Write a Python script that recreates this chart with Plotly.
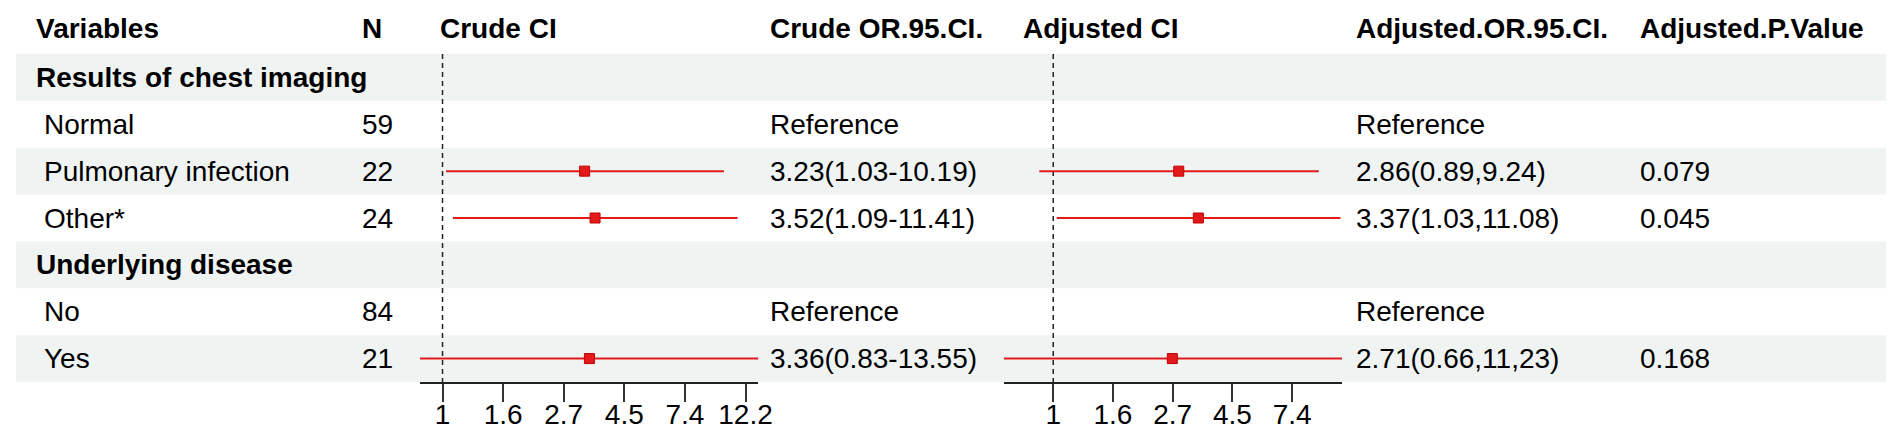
import numpy as np
import plotly.graph_objects as go

# ---- table data ----
variables = ["Results of chest imaging", "Normal", "Pulmonary infection", "Other*",
             "Underlying disease", "No", "Yes"]
is_group = [True, False, False, False, True, False, False]
n_count = ["", "59", "22", "24", "", "84", "21"]

crude_or = [None, None, 3.23, 3.52, None, None, 3.36]
crude_lo = [None, None, 1.03, 1.09, None, None, 0.83]
crude_hi = [None, None, 10.19, 11.41, None, None, 13.55]
crude_text = ["", "Reference", "3.23(1.03-10.19)", "3.52(1.09-11.41)", "",
              "Reference", "3.36(0.83-13.55)"]

adj_or = [None, None, 2.86, 3.37, None, None, 2.71]
adj_lo = [None, None, 0.89, 1.03, None, None, 0.66]
adj_hi = [None, None, 9.24, 11.08, None, None, 11.23]
adj_text = ["", "Reference", "2.86(0.89,9.24)", "3.37(1.03,11.08)", "",
            "Reference", "2.71(0.66,11,23)"]
adj_p = ["", "", "0.079", "0.045", "", "", "0.168"]

headers = ["Variables", "N", "Crude CI", "Crude OR.95.CI.", "Adjusted CI",
           "Adjusted.OR.95.CI.", "Adjusted.P.Value"]
crude_ticks = ["1", "1.6", "2.7", "4.5", "7.4", "12.2"]
adj_ticks = ["1", "1.6", "2.7", "4.5", "7.4"]

# ---- layout geometry (pixels) ----
W, H = 1901, 431
TOP, BOTTOM = 46, 374          # body rows span
ROW_H = (BOTTOM - TOP) / len(variables)
FONT = "Arial, Liberation Sans, sans-serif"
FS = 28
RED = "#e31a1c"
BAND = "#eff3f2"

header_x = [26, 355, 433, 766, 1021, 1356, 1642]
crude_dom = [415 / W, 756 / W]
adj_dom = [1003 / W, 1344 / W]


def py(px):
    return 1 - px / H


def seg(lo, hi, rows):
    xs, ys = [], []
    for a, b, r in zip(lo, hi, rows):
        if a is None:
            continue
        xs += [a, b, None]
        ys += [r, r, None]
    return xs, ys


rows = list(range(len(variables)))
fig = go.Figure()

for xa, lo, hi, est in [("x", crude_lo, crude_hi, crude_or), ("x2", adj_lo, adj_hi, adj_or)]:
    # reference line at OR = 1
    fig.add_trace(go.Scatter(x=[1, 1], y=[-0.5, len(variables) - 0.5], xaxis=xa, yaxis="y",
                             mode="lines", line=dict(color="#222", width=1.5, dash="5px,4px"),
                             showlegend=False, hoverinfo="skip"))
    xs, ys = seg(lo, hi, rows)
    fig.add_trace(go.Scatter(x=xs, y=ys, xaxis=xa, yaxis="y", mode="lines",
                             line=dict(color=RED, width=2), showlegend=False))
    px_ = [e for e in est if e is not None]
    pr = [r for e, r in zip(est, rows) if e is not None]
    fig.add_trace(go.Scatter(x=px_, y=pr, xaxis=xa, yaxis="y", mode="markers",
                             marker=dict(symbol="square", size=10, color=RED,
                                         line=dict(color="#c00000", width=1)),
                             showlegend=False))

# alternating row bands
for i in rows:
    if i % 2 == 0:
        fig.add_shape(type="rect", xref="paper", yref="paper", layer="below",
                      x0=8 / W, x1=1892 / W,
                      y0=py(TOP + (i + 1) * ROW_H), y1=py(TOP + i * ROW_H),
                      fillcolor=BAND, line_width=0)

# headers
for t, x in zip(headers, header_x):
    fig.add_annotation(text="<b>%s</b>" % t, x=x / W, y=py(20), xref="paper", yref="paper",
                       xanchor="left", yanchor="middle", showarrow=False,
                       font=dict(family=FONT, size=FS, color="black"))

# body text columns
cols = [(n_count, 355), (crude_text, 766), (adj_text, 1356), (adj_p, 1642)]
for i in rows:
    name = "<b>%s</b>" % variables[i] if is_group[i] else variables[i]
    fig.add_annotation(text=name, x=(26 if is_group[i] else 34) / W, y=i, xref="paper", yref="y",
                       xanchor="left", yanchor="middle", showarrow=False,
                       font=dict(family=FONT, size=FS, color="black"))
    for vals, x in cols:
        if vals[i]:
            fig.add_annotation(text=vals[i], x=x / W, y=i, xref="paper", yref="y",
                               xanchor="left", yanchor="middle", showarrow=False,
                               font=dict(family=FONT, size=FS, color="black"))


def xaxis_cfg(dom, lo, hi, labels):
    lo_v = min(v for v in lo if v is not None)
    hi_v = max(v for v in hi if v is not None)
    return dict(domain=dom, type="log", range=[np.log10(lo_v), np.log10(hi_v)],
                anchor="y", showgrid=False, zeroline=False,
                showline=True, linecolor="#222", linewidth=2,
                ticks="outside", ticklen=18, tickwidth=2, tickcolor="#333",
                ticklabelstandoff=-12,
                tickvals=np.exp(0.5 * np.arange(len(labels))), ticktext=labels,
                tickfont=dict(family=FONT, size=FS, color="black"))


fig.update_layout(
    width=W, height=H,
    margin=dict(l=0, r=0, t=0, b=0),
    paper_bgcolor="white", plot_bgcolor="rgba(0,0,0,0)",
    xaxis=xaxis_cfg(crude_dom, crude_lo, crude_hi, crude_ticks),
    xaxis2=xaxis_cfg(adj_dom, adj_lo, adj_hi, adj_ticks),
    yaxis=dict(domain=[py(BOTTOM), py(TOP)], range=[len(variables) - 0.5, -0.5],
               visible=False, fixedrange=True),
    showlegend=False,
)

fig.write_html("out.html")
